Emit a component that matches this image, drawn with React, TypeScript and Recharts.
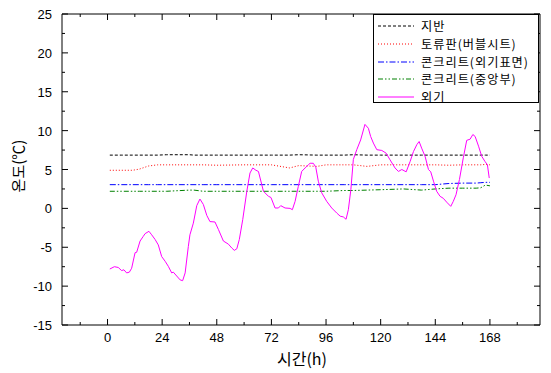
import React from 'react';
import { LineChart, Line, XAxis, YAxis, Legend } from 'recharts';

const xMajorTicks = [0, 24, 48, 72, 96, 120, 144, 168];
const xMinorTicks = [-12, 12, 36, 60, 84, 108, 132, 156, 180];
const yMajorTicks = [-15, -10, -5, 0, 5, 10, 15, 20, 25];
const yMinorTicks = [-12.5, -7.5, -2.5, 2.5, 7.5, 12.5, 17.5, 22.5];

const sensorHours = [1, 6, 11, 14, 18, 22, 26, 36, 38, 42, 48, 60, 72, 80, 84, 92, 96, 104, 108, 114, 120, 130, 138, 144, 150, 156, 162, 164, 166, 168];
const groundTemps = [6.85, 6.85, 6.85, 6.85, 6.85, 6.85, 6.9, 6.9, 6.85, 6.85, 6.85, 6.85, 6.85, 6.85, 6.9, 6.85, 6.85, 6.85, 6.9, 6.85, 6.85, 6.85, 6.85, 6.85, 6.85, 6.85, 6.85, 6.85, 6.85, 6.85];
const boardTemps = [4.9, 4.9, 4.9, 5.05, 5.45, 5.6, 5.6, 5.6, 5.6, 5.6, 5.55, 5.6, 5.6, 5.2, 5.5, 5.4, 5.6, 5.6, 5.6, 5.4, 5.6, 5.6, 5.6, 5.6, 5.55, 5.6, 5.6, 5.6, 5.65, 5.6];
const concreteSurfaceTemps = [3.05, 3.05, 3.05, 3.05, 3.05, 3.05, 3.05, 3.05, 3.05, 3.05, 3.05, 3.05, 3.05, 3.05, 3.05, 3.05, 3.05, 3.05, 3.05, 3.05, 3.05, 3.05, 3.05, 3.05, 3.2, 3.25, 3.25, 3.3, 3.35, 3.35];
const concreteCenterTemps = [2.2, 2.2, 2.2, 2.2, 2.2, 2.2, 2.2, 2.35, 2.35, 2.2, 2.2, 2.2, 2.2, 2.2, 2.2, 2.2, 2.2, 2.3, 2.3, 2.35, 2.4, 2.5, 2.35, 2.5, 2.6, 2.6, 2.6, 2.65, 3.0, 2.9];

const outdoorHours = [1, 3, 4.7, 6.2, 7.2, 8.4, 9.6, 10.6, 12.1, 12.8, 14.3, 15.7, 16.5, 18.2, 19.4, 20.9, 22.3, 23.8, 25.3, 26.7, 28.2, 28.9, 30.4, 31.9, 33, 34.1, 35.5, 36.2, 37.7, 39.2, 40.6, 42.1, 43.6, 45, 47.2, 48.7, 50.9, 53.1, 54.6, 55.7, 56.8, 57.9, 59.4, 61.2, 62.6, 63.8, 65.2, 66.3, 68.5, 70.7, 71.8, 73.6, 75.1, 76.1, 78, 80.2, 81.2, 82.4, 83.8, 85.3, 86.8, 88.2, 89, 90.4, 91.5, 92.6, 94.1, 96.3, 98.5, 100.7, 102.2, 103.6, 104.8, 105.8, 106.9, 108, 109.5, 111.2, 113.1, 114.6, 115.6, 116.8, 118.3, 120.5, 122.4, 124.1, 126.3, 127.8, 129.3, 131.2, 132.9, 134.4, 135.9, 136.9, 138, 139.5, 141, 142, 143.2, 144.6, 146.1, 147.5, 149, 150.8, 151.9, 153.1, 154.6, 156.3, 157.8, 159.3, 160.5, 161.5, 163, 164.4, 165.9, 166.9, 167.7];
const outdoorTemps = [-7.8, -7.5, -7.6, -8.0, -7.9, -8.3, -8.2, -7.7, -5.7, -5.65, -4.2, -3.6, -3.25, -2.95, -3.4, -4.0, -4.7, -6.2, -6.8, -7.45, -8.3, -8.2, -8.7, -9.2, -9.3, -8.3, -4.9, -3.4, -1.9, 0.35, 1.2, 0.5, -0.9, -1.7, -1.75, -2.7, -4.2, -4.6, -5.1, -5.4, -5.2, -4.0, -1.45, 2.2, 4.55, 5.2, 4.9, 4.75, 2.2, 1.55, 1.4, 0.05, 0.05, 0.35, 0.05, 0.0, -0.17, 0.9, 2.8, 4.75, 5.2, 5.6, 5.8, 5.8, 5.3, 3.5, 2.0, 0.9, 0.05, -0.6, -1.0, -1.1, -1.4, -0.17, 2.4, 6.3, 7.55, 8.8, 10.8, 10.3, 9.25, 8.4, 7.55, 7.45, 7.1, 6.25, 5.2, 4.75, 5.0, 4.7, 6.0, 7.3, 8.2, 8.6, 7.75, 6.7, 5.0, 4.7, 3.5, 2.2, 1.55, 1.3, 0.8, 0.26, 0.9, 1.75, 3.7, 6.5, 8.75, 8.9, 9.5, 9.25, 8.0, 6.7, 6.0, 5.6, 3.9];

const seriesNames = ['지반', '토류판(버블시트)', '콘크리트(외기표면)', '콘크리트(중앙부)', '외기'];

const build = (hours: number[], vals: number[]) => hours.map((h, i) => ({ h, v: vals[i] }));

const series = [
  { name: seriesNames[0], data: build(sensorHours, groundTemps), color: '#000000', dash: '3 2' },
  { name: seriesNames[1], data: build(sensorHours, boardTemps), color: '#FF0000', dash: '1 2' },
  { name: seriesNames[2], data: build(sensorHours, concreteSurfaceTemps), color: '#0000FF', dash: '6 2 1.5 2' },
  { name: seriesNames[3], data: build(sensorHours, concreteCenterTemps), color: '#008000', dash: '5 2 1.5 2 1.5 2' },
  { name: seriesNames[4], data: build(outdoorHours, outdoorTemps), color: '#FF00FF', dash: undefined as string | undefined },
];

const FONT = '"Liberation Sans", Arial, sans-serif';
const KFONT = '"Noto Sans CJK KR", "Liberation Sans", sans-serif';

const isMajorX = (v: number) => xMajorTicks.includes(v);
const isMajorY = (v: number) => yMajorTicks.includes(v);

const BottomTick = (props: any) => {
  const { x, y, payload } = props;
  const major = isMajorX(payload.value);
  return (
    <g>
      <line x1={x} x2={x} y1={y} y2={y - (major ? 6 : 3)} stroke="#000" strokeWidth={1} />
      {major && (
        <text x={x} y={y + 17} textAnchor="middle" fontFamily={FONT} fontSize={13} fill="#000">
          {payload.value}
        </text>
      )}
    </g>
  );
};
const TopTick = (props: any) => {
  const { x, y, payload } = props;
  const major = isMajorX(payload.value);
  return <line x1={x} x2={x} y1={y} y2={y + (major ? 6 : 3)} stroke="#000" strokeWidth={1} />;
};
const LeftTick = (props: any) => {
  const { x, y, payload } = props;
  const major = isMajorY(payload.value);
  return (
    <g>
      <line x1={x} x2={x + (major ? 6 : 3)} y1={y} y2={y} stroke="#000" strokeWidth={1} />
      {major && (
        <text x={x - 10} y={y + 5} textAnchor="end" fontFamily={FONT} fontSize={13} fill="#000">
          {payload.value}
        </text>
      )}
    </g>
  );
};
const RightTick = (props: any) => {
  const { x, y, payload } = props;
  const major = isMajorY(payload.value);
  return <line x1={x} x2={x - (major ? 6 : 3)} y1={y} y2={y} stroke="#000" strokeWidth={1} />;
};

const LegendBox = () => (
  <div
    style={{
      width: 166,
      height: 89,
      boxSizing: 'border-box',
      border: '1px solid #000',
      background: '#fff',
      position: 'relative',
    }}
  >
    {series.map((s, i) => (
      <div
        key={s.name}
        style={{ position: 'absolute', left: 0, top: 11 + i * 17.8 - 8, height: 16, display: 'flex', alignItems: 'center' }}
      >
        <svg width={50} height={16} style={{ display: 'block' }}>
          <line x1={4} x2={40} y1={8} y2={8} stroke={s.color} strokeWidth={1} strokeDasharray={s.dash} />
        </svg>
        <span
          style={{
            fontFamily: KFONT,
            fontSize: 12.2,
            letterSpacing: 1,
            color: '#000',
            whiteSpace: 'nowrap',
            marginLeft: -3,
            lineHeight: '16px',
            height: 16,
            display: 'block',
          }}
        >
          {s.name}
        </span>
      </div>
    ))}
  </div>
);

const allXTicks = [...xMinorTicks, ...xMajorTicks].sort((a, b) => a - b);
const allYTicks = [...yMinorTicks, ...yMajorTicks].sort((a, b) => a - b);

export default function App() {
  return (
    <div style={{ position: 'relative', width: 543, height: 365 }}>
      <LineChart width={543} height={365} margin={{ top: 5, right: 10, bottom: 18, left: 14 }}>
        <XAxis
          xAxisId="b"
          type="number"
          dataKey="h"
          domain={[-20, 190]}
          ticks={allXTicks}
          interval={0}
          orientation="bottom"
          height={30}
          tickSize={0}
          tickMargin={0}
          tickLine={false}
          tick={<BottomTick />}
          axisLine={{ stroke: '#000', strokeWidth: 1 }}
          allowDataOverflow
        />
        <XAxis
          xAxisId="t"
          type="number"
          dataKey="h"
          domain={[-20, 190]}
          ticks={allXTicks}
          interval={0}
          orientation="top"
          height={1}
          tickSize={0}
          tickMargin={0}
          tickLine={false}
          tick={<TopTick />}
          axisLine={{ stroke: '#000', strokeWidth: 1 }}
          allowDataOverflow
        />
        <YAxis
          yAxisId="l"
          type="number"
          domain={[-15, 25]}
          ticks={allYTicks}
          interval={0}
          orientation="left"
          width={40}
          tickSize={0}
          tickMargin={0}
          tickLine={false}
          tick={<LeftTick />}
          axisLine={{ stroke: '#000', strokeWidth: 1 }}
          allowDataOverflow
        />
        <YAxis
          yAxisId="r"
          type="number"
          domain={[-15, 25]}
          ticks={allYTicks}
          interval={0}
          orientation="right"
          width={1}
          tickSize={0}
          tickMargin={0}
          tickLine={false}
          tick={<RightTick />}
          axisLine={{ stroke: '#000', strokeWidth: 1 }}
          allowDataOverflow
        />
        {series.map((s) => (
          <Line
            key={s.name}
            xAxisId="b"
            yAxisId="l"
            data={s.data}
            dataKey="v"
            name={s.name}
            type="linear"
            stroke={s.color}
            strokeWidth={1}
            strokeDasharray={s.dash}
            dot={false}
            activeDot={false}
            isAnimationActive={false}
          />
        ))}
        <Legend
          layout="vertical"
          align="center"
          verticalAlign="middle"
          wrapperStyle={{ position: 'absolute', left: 365, top: 6, width: 166, height: 89, margin: 0 }}
          content={() => <LegendBox />}
        />
      </LineChart>
      <div
        style={{
          position: 'absolute',
          left: 9,
          top: 158,
          transform: 'translate(-50%, -50%) rotate(-90deg)',
          fontFamily: KFONT,
          fontSize: 15,
          whiteSpace: 'nowrap',
          lineHeight: 1,
          color: '#000',
        }}
      >
        온도(℃)
      </div>
      <div
        style={{
          position: 'absolute',
          left: 294,
          top: 350,
          transform: 'translate(-50%, -50%)',
          fontFamily: KFONT,
          fontSize: 16,
          whiteSpace: 'nowrap',
          lineHeight: 1,
          color: '#000',
        }}
      >
        시간(h)
      </div>
    </div>
  );
}
